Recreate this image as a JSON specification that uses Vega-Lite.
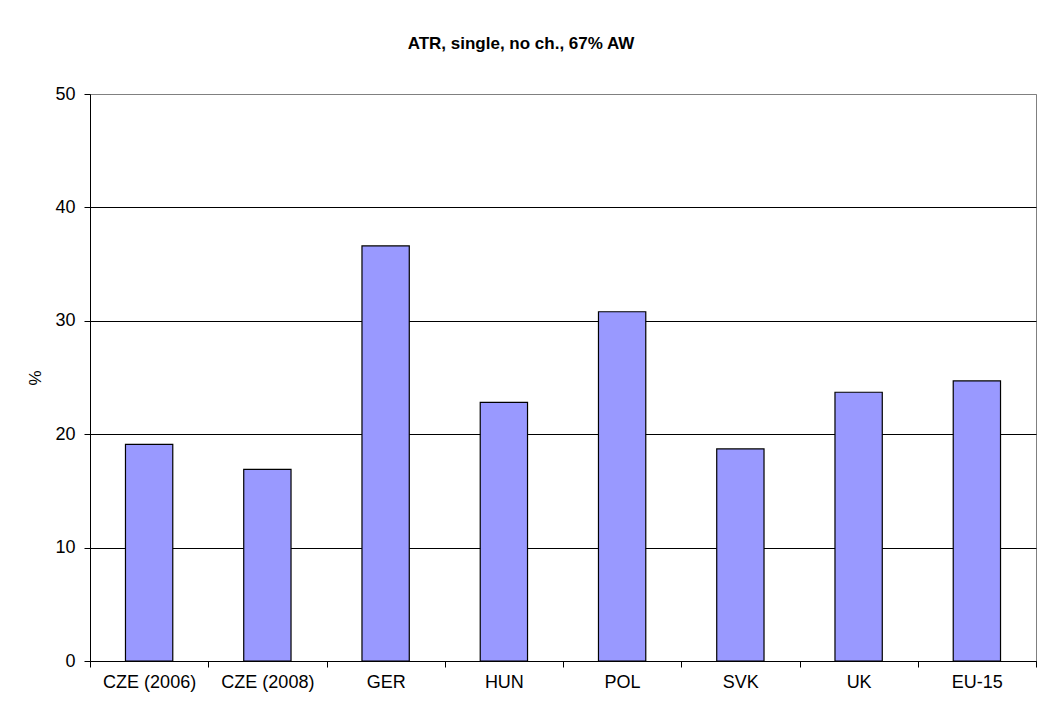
{
  "$schema": "https://vega.github.io/schema/vega-lite/v6.json",
  "width": 946,
  "height": 567,
  "autosize": {"type": "none"},
  "padding": {"left": 90, "top": 94, "right": 7, "bottom": 51},
  "background": "white",
  "title": {
    "text": "ATR, single, no ch., 67% AW",
    "font": "Liberation Sans",
    "fontSize": 17,
    "fontWeight": "bold",
    "color": "#000",
    "anchor": "middle",
    "dx": -42,
    "offset": 32
  },
  "data": {
    "values": [
      {"country": "CZE (2006)", "value": 19.1},
      {"country": "CZE (2008)", "value": 16.9},
      {"country": "GER", "value": 36.6},
      {"country": "HUN", "value": 22.8},
      {"country": "POL", "value": 30.8},
      {"country": "SVK", "value": 18.7},
      {"country": "UK", "value": 23.7},
      {"country": "EU-15", "value": 24.7}
    ]
  },
  "mark": {"type": "bar", "color": "#9999FF", "stroke": "#000", "strokeWidth": 1.2, "width": {"band": 0.4}},
  "encoding": {
    "x": {
      "field": "country",
      "type": "nominal",
      "sort": null,
      "scale": {"paddingInner": 0, "paddingOuter": 0},
      "axis": {
        "title": null,
        "labelAngle": 0,
        "tickBand": "extent",
        "tickSize": 6,
        "tickColor": "#000",
        "domainColor": "#000",
        "labelPadding": 6,
        "labelFont": "Liberation Sans",
        "labelFontSize": 18,
        "labelColor": "#000",
        "grid": false
      }
    },
    "y": {
      "field": "value",
      "type": "quantitative",
      "scale": {"domain": [0, 50], "nice": false},
      "axis": {
        "title": "%",
        "values": [0, 10, 20, 30, 40, 50],
        "tickSize": 6,
        "tickColor": "#000",
        "domainColor": "#000",
        "labelPadding": 9,
        "labelFont": "Liberation Sans",
        "labelFontSize": 18,
        "labelColor": "#000",
        "titleFont": "Liberation Sans",
        "titleFontSize": 17,
        "titleFontWeight": "normal",
        "titleColor": "#000",
        "titlePadding": 10,
        "grid": true,
        "gridColor": {"condition": {"test": "datum.value === 50", "value": "#808080"}, "value": "#000"},
        "gridOpacity": 1
      }
    }
  },
  "config": {
    "view": {"stroke": "#808080", "strokeWidth": 1},
    "axis": {"domainWidth": 1, "tickWidth": 1, "gridWidth": 1}
  }
}
